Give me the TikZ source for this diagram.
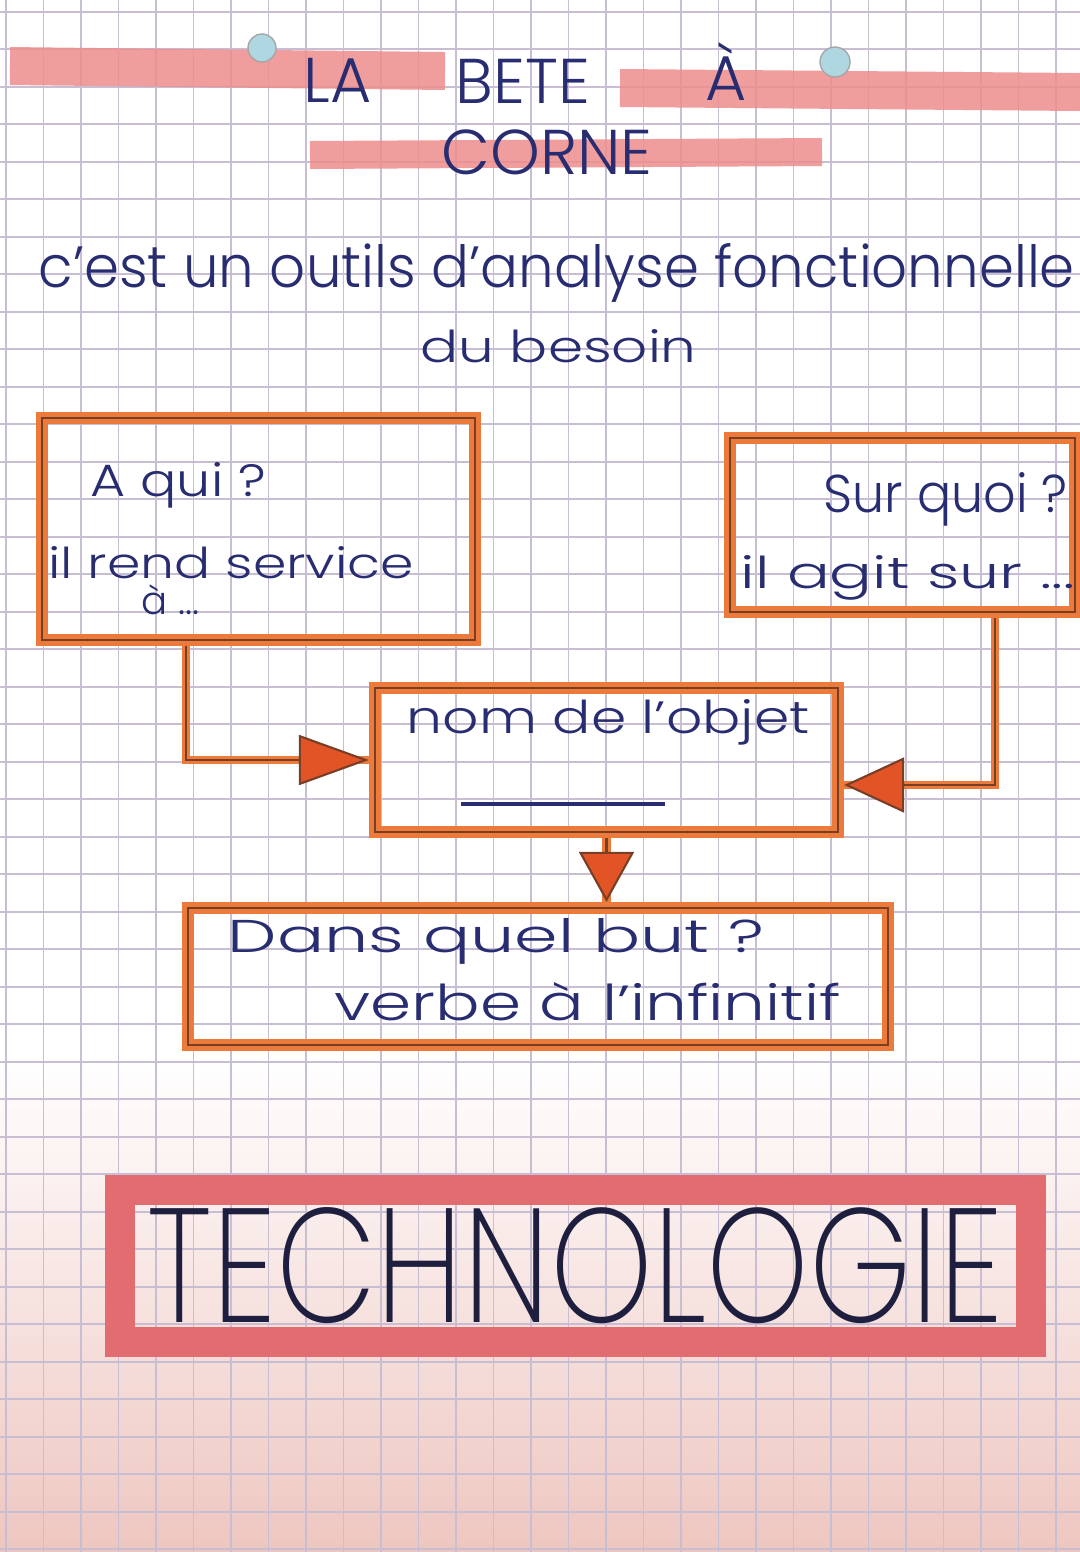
\documentclass[tikz,border=0pt]{standalone}
\usepackage{fontspec}
\setmainfont{Poppins Light}
\newfontfamily\thinhand{Poppins ExtraLight}
\usetikzlibrary{arrows.meta}

\definecolor{ink}{RGB}{40,44,112}
\definecolor{darkink}{RGB}{30,30,62}
\definecolor{boxorange}{RGB}{236,122,58}
\definecolor{pen}{RGB}{120,62,38}
\definecolor{tipred}{RGB}{226,84,38}
\definecolor{hlpink}{RGB}{238,140,140}
\definecolor{techpink}{RGB}{226,108,112}
\definecolor{gridc}{RGB}{200,190,212}
\definecolor{paperpink}{RGB}{238,198,192}
\definecolor{dotblue}{RGB}{175,215,225}

\newcommand{\hand}[3]{\resizebox{#1}{#2}{#3}}

\tikzset{
  inkline/.style={ink, inner sep=0pt, anchor=base west},
  titleword/.style={inkline, font=\fontsize{18}{21}\selectfont},
  obox/.style={draw=pen, line width=0.6pt, preaction={draw=boxorange, line width=3.5pt}, inner sep=0pt, outer sep=1.75pt},
  conn/.style={draw=pen, line width=0.6pt, preaction={draw=boxorange, line width=2.5pt, -}},
}

\begin{document}
\begin{tikzpicture}
\useasboundingbox (0,0) rectangle (10.8,-15.52);
%paper
\fill[white] (0,0) rectangle (10.8,-15.52);
\shade[top color=white, bottom color=paperpink] (0,-10.6) rectangle (10.8,-15.52);
\draw[step=0.375cm, gridc, line width=0.5pt, xshift=0.06cm, yshift=-0.117cm] (-0.375,0.375) grid (10.8,-15.6);

%highlighter
\draw[hlpink, line width=0.38cm, opacity=0.85] (0.10,-0.66) -- (4.45,-0.71);
\draw[hlpink, line width=0.38cm, opacity=0.85] (6.20,-0.88) -- (10.8,-0.92);
\draw[hlpink, line width=0.28cm, opacity=0.85] (3.10,-1.55) -- (8.22,-1.52);

%holes
\filldraw[fill=dotblue, draw=gray!70] (2.62,-0.48) circle (0.14);
\filldraw[fill=dotblue, draw=gray!70] (8.35,-0.62) circle (0.15);

%title
\node[titleword] (tla) at (3.03,-1.02) {LA};
\node[titleword] (tbete) at (4.55,-1.03) {BETE};
\node[titleword] (ta) at (7.05,-1.00) {À};
\node[titleword] (tcorne) at (4.41,-1.74) {CORNE};

%definition
\node[inkline] (def1) at (0.38,-2.87) {\hand{10.36cm}{0.44cm}{c'est un outils d'analyse fonctionnelle}};
\node[inkline] (def2) at (4.20,-3.62) {\hand{2.76cm}{0.33cm}{du besoin}};

%boxes
\node[obox, minimum width=4.33cm, minimum height=2.22cm] (qui) at (2.585,-5.29) {};
\node[obox, minimum width=3.45cm, minimum height=1.74cm] (sur) at (9.025,-5.25) {};
\node[obox, minimum width=4.63cm, minimum height=1.44cm] (nom) at (6.065,-7.60) {};
\node[obox, minimum width=7.00cm, minimum height=1.37cm] (but) at (5.38,-9.765) {};

%box texts
\node[inkline] (quia) at (0.90,-4.96) {\hand{1.75cm}{0.34cm}{A qui ?}};
\node[inkline] (quib) at (0.48,-5.78) {\hand{3.65cm}{0.32cm}{il rend service}};
\node[inkline, font=\fontsize{11}{13}\selectfont] (quic) at (1.41,-6.14) {à ...};
\node[inkline] (sura) at (8.23,-5.12) {\hand{2.44cm}{0.40cm}{Sur quoi ?}};
\node[inkline] (surb) at (7.40,-5.88) {\hand{3.34cm}{0.33cm}{il agit sur ...}};
\node[inkline] (noma) at (4.06,-7.33) {\hand{4.03cm}{0.34cm}{nom de l'objet}};
\draw[ink, line width=0.9pt] (4.61,-8.04) -- (6.65,-8.04);
\node[inkline] (buta) at (2.27,-9.52) {\hand{5.37cm}{0.34cm}{Dans quel but ?}};
\node[inkline] (butb) at (3.34,-10.20) {\hand{5.06cm}{0.38cm}{verbe à l'infinitif}};

%arrows
\draw[conn, -{Triangle[length=7mm,width=5mm,fill=tipred]}] ([xshift=-0.725cm]qui.south) |- (nom.west);
\draw[conn, -{Triangle[length=6mm,width=5.5mm,fill=tipred]}] ([xshift=0.925cm]sur.south) |- ([yshift=-0.25cm]nom.east);
\draw[conn, -{Triangle[length=5mm,width=5.5mm,fill=tipred]}] (nom.south) -- (nom.south |- but.north);

%subject
\node[draw=techpink, line width=0.3cm, minimum width=9.11cm, minimum height=1.52cm, inner sep=0pt, text=darkink, font=\thinhand] (tech) at (5.755,-12.66) {\resizebox{8.55cm}{1.15cm}{TECHNOLOGIE}};

\end{tikzpicture}
\end{document}
